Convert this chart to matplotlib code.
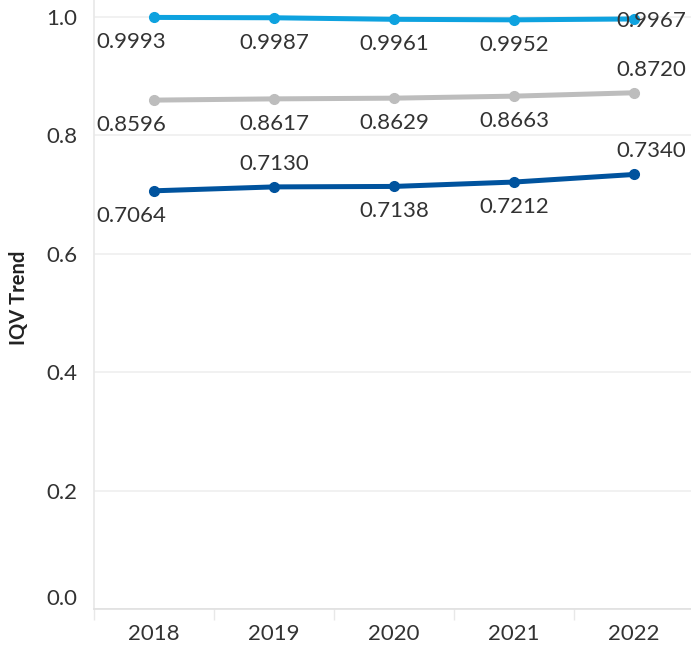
import numpy as np
import matplotlib.pyplot as plt
from matplotlib.ticker import FixedLocator, NullFormatter
from matplotlib.transforms import ScaledTranslation

# data
years = ["2018", "2019", "2020", "2021", "2022"]
top_series = [0.9993, 0.9987, 0.9961, 0.9952, 0.9967]
mid_series = [0.8596, 0.8617, 0.8629, 0.8663, 0.8720]
low_series = [0.7064, 0.7130, 0.7138, 0.7212, 0.7340]

# label placement per point: -1 below, +1 above, 0 level
top_place = [-1, -1, -1, -1, 0]
mid_place = [-1, -1, -1, -1, 1]
low_place = [-1, 1, -1, -1, 1]

plt.rcParams["font.family"] = ["Lato", "DejaVu Sans"]

W, H = 691, 648
fig = plt.figure(figsize=(W / 100, H / 100), dpi=100)
ax = fig.add_axes([94 / W, (H - 609) / H, (W - 94) / W, 609 / H])

x = np.arange(len(years))
series = [
    (top_series, top_place, "#0EA2DF"),
    (mid_series, mid_place, "#BDBDBD"),
    (low_series, low_place, "#00539E"),
]

text_color = "#333333"
fs = 16
for vals, place, col in series:
    ax.plot(x, vals, color=col, linewidth=3.6, marker="o", markersize=7,
            solid_capstyle="round", zorder=3)
    for i, (v, p) in enumerate(zip(vals, place)):
        dx = 0
        if i == 0:
            dx = -23
        elif i == len(vals) - 1:
            dx = 17
        dy = {-1: -25, 1: 23, 0: -2}[p]
        ax.annotate(f"{v:.4f}", (i, v), xytext=(dx * 0.72, dy * 0.72),
                    textcoords="offset points", ha="center", va="center",
                    fontsize=fs, color=text_color, zorder=4)

ax.set_xlim(-0.5, -0.5 + (W - 94) / 120)
ax.set_ylim(0, 609 / 592)

ax.set_yticks([0.0, 0.2, 0.4, 0.6, 0.8, 1.0])
ax.set_yticklabels(["0.0", "0.2", "0.4", "0.6", "0.8", "1.0"])
ax.set_xticks(x)
ax.set_xticklabels(years)
ax.xaxis.set_minor_locator(FixedLocator(np.arange(-0.5, 4.0, 1.0)))
ax.xaxis.set_minor_formatter(NullFormatter())

ax.tick_params(axis="y", length=0, pad=12, labelsize=fs, labelcolor=text_color)
ax.tick_params(axis="x", which="major", length=0, pad=11, labelsize=fs,
               labelcolor=text_color)
ax.tick_params(axis="x", which="minor", length=8, width=1, color="#e8e8e8")

# the bottom label sits a little above its gridline
lab0 = ax.get_yticklabels()[0]
lab0.set_transform(lab0.get_transform() + ScaledTranslation(0, 12 / 100, fig.dpi_scale_trans))

ax.grid(axis="y", color="#efefef", linewidth=1.2, zorder=0)
ax.set_axisbelow(True)

for s in ["top", "right"]:
    ax.spines[s].set_visible(False)
ax.spines["left"].set_color("#e8e8e8")
ax.spines["left"].set_linewidth(1.2)
ax.spines["bottom"].set_color("#e0e0e0")
ax.spines["bottom"].set_linewidth(1.2)
ax.spines["bottom"].set_linestyle((0, (2, 1)))

fig.text(19 / W, 1 - 298 / H, "IQV Trend", rotation=90, ha="center", va="center",
         fontsize=14.5, fontweight="bold", color="#222222")

fig.savefig("out.png", dpi=100)
